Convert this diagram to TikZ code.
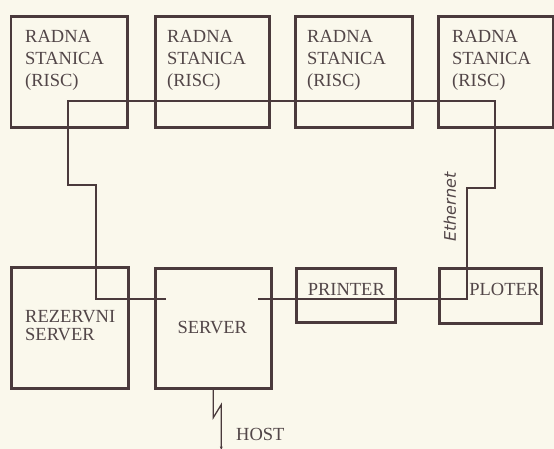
\documentclass[tikz,border=0pt]{standalone}
\usepackage{fontspec}
\setmainfont{Liberation Serif}
\newfontfamily\ethfont{DejaVu Sans}
\usetikzlibrary{calc,arrows.meta}
\definecolor{bg}{HTML}{FAF8EC}
\definecolor{ink}{HTML}{4A3A3C}
\definecolor{txt}{HTML}{524648}
\begin{document}
\begin{tikzpicture}[x=1pt,y=-1pt,
  box/.style={draw=ink, line width=2.6pt, inner sep=0pt, anchor=north west},
  lbl/.style={text=txt, font=\fontsize{18.5}{22}\selectfont, inner sep=0pt, align=left},
  wire/.style={draw=ink, line width=1.3pt, line join=miter}]
\fill[bg] (0,0) rectangle (554,449);
\useasboundingbox (0,0) rectangle (554,449);
% boxes
\node[box, minimum width=116.5pt, minimum height=111pt] (b1) at (9.5,15) {};
\node[box, minimum width=114pt, minimum height=111pt] (b2) at (154,15) {};
\node[box, minimum width=117pt, minimum height=111pt] (b3) at (294,15) {};
\node[box, minimum width=115pt, minimum height=111pt] (b4) at (437,15) {};
\node[box, minimum width=117pt, minimum height=121pt] (rez) at (10,266) {};
\node[box, minimum width=116pt, minimum height=120pt] (srv) at (154,267) {};
\node[box, minimum width=99pt, minimum height=54pt] (prn) at (295,267) {};
\node[box, minimum width=102pt, minimum height=55pt] (plt) at (438,267) {};
% labels (base anchor = baseline of the last line)
\node[lbl, anchor=base west] (t1) at ($(b1.north west)+(15.5,72)$) {RADNA\\STANICA\\(RISC)};
\node[lbl, anchor=base west] (t2) at ($(b2.north west)+(13,72)$) {RADNA\\STANICA\\(RISC)};
\node[lbl, anchor=base west] (t3) at ($(b3.north west)+(13,72)$) {RADNA\\STANICA\\(RISC)};
\node[lbl, anchor=base west] (t4) at ($(b4.north west)+(15,72)$) {RADNA\\STANICA\\(RISC)};
\node[lbl, anchor=base west, font=\fontsize{18.5}{18}\selectfont] (tr) at ($(rez.north west)+(15,74)$) {REZERVNI\\SERVER};
\node[lbl] (ts) at ($(srv.center)+(-1,-1)$) {SERVER};
\node[lbl] (tp) at ($(prn.center)+(0.5,-6)$) {PRINTER};
\node[lbl] (tl) at ($(plt.center)+(14,-6.5)$) {PLOTER};
\node[lbl, anchor=base west] (th) at (236,440) {HOST};
\node[text=txt, rotate=90, inner sep=0pt, font=\ethfont\itshape\fontsize{16}{16}\selectfont] (te) at (450,207) {Ethernet};
% ethernet wire
\coordinate (w0) at (166,299);
\coordinate (w1) at (96,299);
\coordinate (w2) at (96,185);
\coordinate (w3) at (68,185);
\coordinate (w4) at (68,101);
\coordinate (w5) at (495,101);
\coordinate (w6) at (495,188);
\coordinate (w7) at (467,188);
\coordinate (w8) at (467,299);
\coordinate (w9) at (258,299);
\draw[wire] (w0) -- (w1) -- (w2) -- (w3) -- (w4) -- (w5) -- (w6) -- (w7) -- (w8) -- (w9);
% host wire
\coordinate (h1) at ($(srv.south)+(0,28)$);
\coordinate (h2) at ($(srv.south)+(8,15)$);
\coordinate (h3) at ($(srv.south)+(8,61)$);
\draw[wire, -{Latex[length=4pt,width=3pt]}] (srv.south) -- (h1) -- (h2) -- (h3);
\end{tikzpicture}
\end{document}
